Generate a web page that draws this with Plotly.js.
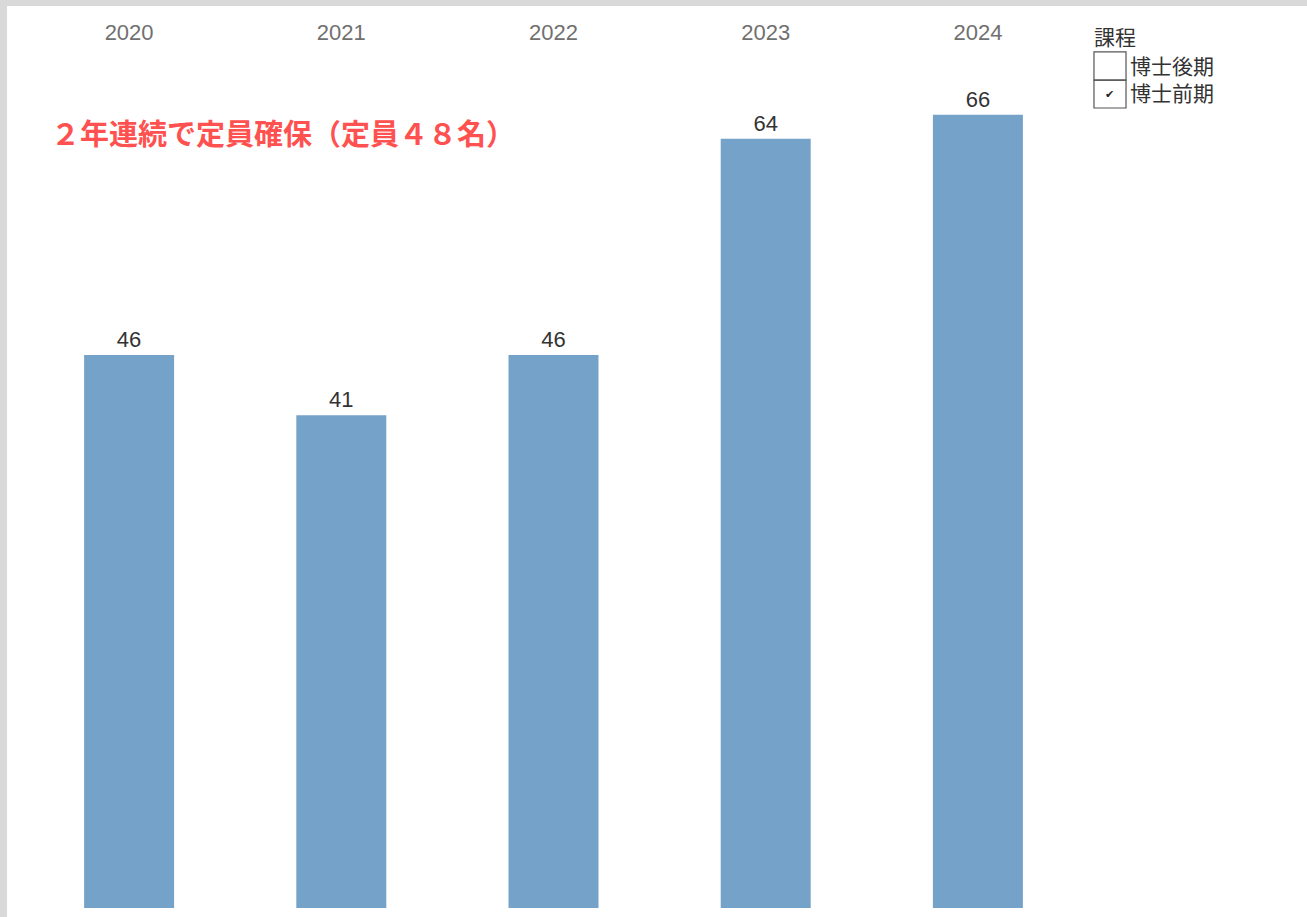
<!DOCTYPE html>
<html>
<head>
<meta charset="utf-8">
<script src="https://cdn.plot.ly/plotly-3.0.1.min.js"></script>
<style>
  html, body { margin: 0; padding: 0; background: #d9d9d9; width: 1307px; height: 917px; overflow: hidden; }
  #chart { position: absolute; left: 7px; top: 6px; width: 1300px; height: 911px; background: #fff; }
</style>
</head>
<body>
<div id="chart"></div>
<script>
const years = ['2020', '2021', '2022', '2023', '2024'];
const doctoralFirst = [46, 41, 46, 64, 66];   // 博士前期
const legendTitle = '課程';
const legendItems = ['博士後期', '博士前期'];
const legendChecked = [false, true];
const noteText = '２年連続で定員確保（定員４８名）';

const barColor = '#74a2c8';
const fontLatin = 'Arial, "Liberation Sans", "Noto Sans CJK JP", sans-serif';
const fontCJK = '"Noto Sans CJK JP", "Liberation Sans", sans-serif';

const trace = {
  type: 'bar',
  x: years,
  y: doctoralFirst,
  name: legendItems[1],
  marker: { color: barColor, line: { width: 0 } },
  text: doctoralFirst.map(String),
  textposition: 'outside',
  textfont: { family: fontLatin, size: 22, color: '#333333' },
  cliponaxis: false,
  hoverinfo: 'x+y',
  showlegend: false
};

// legend drawn as checkboxes (paper coords)
const shapes = [];
const annotations = [];
const boxX0 = 1.0094, boxX1 = 1.0396;
const rowTop = [0.9977, 0.9650];
const rowBot = [0.9650, 0.9324];
legendItems.forEach((name, i) => {
  shapes.push({
    type: 'rect', xref: 'paper', yref: 'paper',
    x0: boxX0, x1: boxX1, y0: rowBot[i], y1: rowTop[i],
    line: { color: '#555555', width: 1.2 }, fillcolor: 'rgba(0,0,0,0)'
  });
  if (legendChecked[i]) {
    annotations.push({
      xref: 'paper', yref: 'paper', x: (boxX0 + boxX1) / 2, y: (rowTop[i] + rowBot[i]) / 2,
      xanchor: 'center', yanchor: 'middle', showarrow: false,
      text: '<b>✔</b>', font: { family: '"DejaVu Sans", sans-serif', size: 11, color: '#222222' }
    });
  }
});
annotations.push({
  xref: 'paper', yref: 'paper', x: 1.0415, y: rowBot[0] + 0.002,
  xanchor: 'left', yanchor: 'middle', align: 'left', showarrow: false,
  text: legendItems.join('<br>'), font: { family: fontCJK, size: 21, color: '#333333' }
});
annotations.push({
  xref: 'paper', yref: 'paper', x: 1.0075, y: 1.0165,
  xanchor: 'left', yanchor: 'middle', showarrow: false,
  text: legendTitle, font: { family: fontCJK, size: 21, color: '#333333' }
});
annotations.push({
  xref: 'paper', yref: 'paper', x: 0.0245, y: 0.9045,
  xanchor: 'left', yanchor: 'middle', showarrow: false,
  text: '<b>' + noteText + '</b>', font: { family: fontCJK, size: 29, color: '#fe5150' }
});

const layout = {
  width: 1300, height: 911,
  margin: { l: 16, r: 223, t: 44, b: 9, pad: 0 },
  paper_bgcolor: '#ffffff',
  plot_bgcolor: '#ffffff',
  bargap: 0.576,
  showlegend: false,
  xaxis: {
    type: 'category',
    side: 'top',
    showgrid: false, zeroline: false, showline: false,
    ticks: '', ticklen: 0,
    tickfont: { family: fontLatin, size: 22, color: '#707070' },
    ticklabelstandoff: 5,
    fixedrange: true
  },
  yaxis: {
    range: [0, 71.38],
    visible: false,
    showgrid: false, zeroline: false,
    fixedrange: true
  },
  shapes: shapes,
  annotations: annotations
};

Plotly.newPlot('chart', [trace], layout, { displayModeBar: false, staticPlot: false });
</script>
</body>
</html>
